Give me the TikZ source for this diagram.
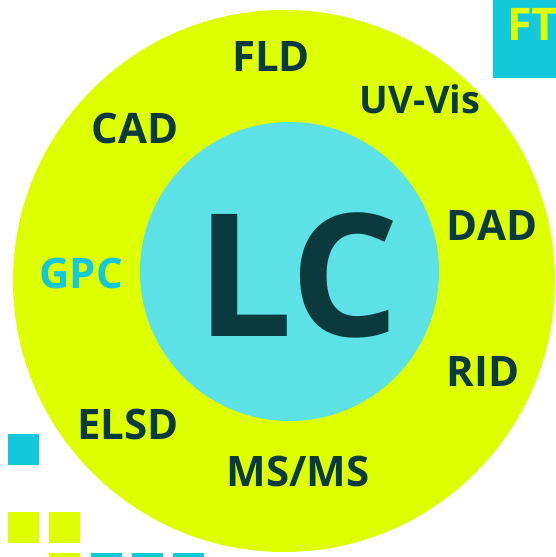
\documentclass[tikz,border=0pt]{standalone}
\usepackage{fontspec}
\setmainfont{Open Sans}
\usetikzlibrary{
  positioning, % for relative node positioning
}
\definecolor{lc-lime}{RGB}{221, 255, 0}
\definecolor{lc-aqua}{RGB}{92, 225, 230}
\definecolor{lc-cyan}{RGB}{20, 200, 220}
\definecolor{lc-ink}{RGB}{11, 58, 62}

\begin{document}
\begin{tikzpicture}[%
    x=1pt, y=-1pt,% pixel grid, y downwards
    technique/.style={anchor=base, inner sep=0pt, text=lc-ink,
      font=\fontsize{42}{42}\selectfont\bfseries},%
    tile/.style={fill=#1, draw=none, minimum size=31pt, inner sep=0pt,
      anchor=north west},%
    ]
    \useasboundingbox (0,0) rectangle (556,557);
    \clip (0,0) rectangle (556,557);

    % rings
    \node[circle, fill=lc-lime, inner sep=0pt, minimum size=542pt] (ring) at (284,281) {};
    \node[circle, fill=lc-aqua, inner sep=0pt, minimum size=299pt] (core) at (289.5,271.5) {};
    \node[anchor=base, inner sep=0pt, text=lc-ink,
      font=\fontsize{171}{171}\selectfont\bfseries] (lc) at (298,336) {LC};

    % detectors round the core
    \node[technique] (fld) at (271,71) {FLD};
    \node[technique, font=\fontsize{38}{38}\selectfont\bfseries] (uvvis) at (420,113) {UV-Vis};
    \node[technique] (cad) at (135,143) {CAD};
    \node[technique] (dad) at (492,240) {DAD};
    \node[technique, text=lc-cyan] (gpc) at (81,288) {GPC};
    \node[technique] (rid) at (483,386) {RID};
    \node[technique] (elsd) at (128,439) {ELSD};
    \node[technique] (msms) at (298,486) {MS/MS};

    % corner tag
    \node[fill=lc-cyan, inner sep=0pt, minimum width=64pt, minimum height=78pt,
      anchor=north west] (ft) at (492.5,0) {};
    \node[anchor=base west, inner sep=0pt, text=lc-lime,
      font=\fontsize{45}{45}\selectfont\bfseries] (ftlabel) at (507,40) {FT};

    % tiles
    \foreach \tx/\ty/\tc [count=\i] in {8/434/lc-cyan, 8/512/lc-lime, 49/512/lc-lime,
      49/553/lc-lime, 91/553/lc-cyan, 132/553/lc-cyan, 173/553/lc-cyan}
      \node[tile=\tc] (tile\i) at (\tx,\ty) {};
  \end{tikzpicture}
\end{document}
